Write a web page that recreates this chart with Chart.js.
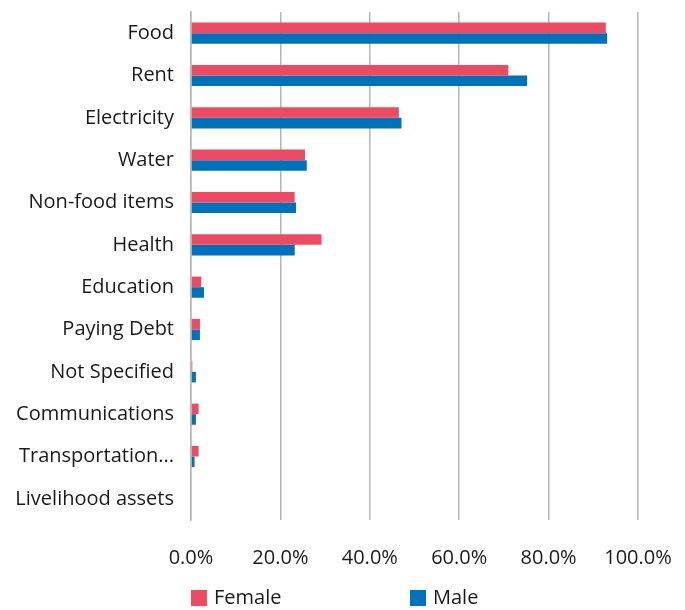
<!DOCTYPE html>
<html>
<head>
<meta charset="utf-8">
<script src="https://cdn.jsdelivr.net/npm/chart.js@4.4.1/dist/chart.umd.min.js"></script>
<style>
  html, body { margin: 0; padding: 0; background: #fff; }
  #wrap { width: 685px; height: 610px; }
</style>
</head>
<body>
<div id="wrap"><canvas id="expenses"></canvas></div>
<script>
// Spending categories, share of households (%)
var categories = ['Food', 'Rent', 'Electricity', 'Water', 'Non-food items', 'Health',
    'Education', 'Paying Debt', 'Not Specified', 'Communications', 'Transportation...',
    'Livelihood assets'];
var female = [92.8, 71.0, 46.5, 25.5, 23.2, 29.2, 2.3, 2.0, 0.3, 1.7, 1.7, 0];
var male   = [93.1, 75.2, 47.1, 25.9, 23.5, 23.2, 2.9, 2.0, 1.1, 1.1, 0.8, 0];
var xTicks = ['0.0%', '20.0%', '40.0%', '60.0%', '80.0%', '100.0%'];

var FONT = "'Open Sans', sans-serif";
var FONT_SIZE = 20;
var GRID = '#b5b5b5';

Chart.defaults.font.family = FONT;
Chart.defaults.color = '#1a1a1a';

// legend row under the axis, items spread wide apart
var wideLegend = {
    id: 'wideLegend',
    afterDraw: function(chart) {
        var c = chart.ctx;
        var slots = [191, 410];
        var y = 598;
        c.save();
        c.font = FONT_SIZE + 'px ' + FONT;
        c.textBaseline = 'middle';
        c.textAlign = 'left';
        chart.data.datasets.forEach(function(ds, i) {
            var x = slots[i];
            c.fillStyle = ds.backgroundColor;
            c.fillRect(x, y - 8, 16, 16);
            c.fillStyle = '#1a1a1a';
            c.fillText(ds.label, x + 23, y);
        });
        c.restore();
    }
};

var ctx = document.getElementById('expenses').getContext('2d');
new Chart(ctx, {
    type: 'bar',
    data: {
        labels: categories,
        datasets: [
            { label: 'Female', data: female, backgroundColor: '#ed4a63' },
            { label: 'Male', data: male, backgroundColor: '#0071bb' }
        ]
    },
    options: {
        indexAxis: 'y',
        responsive: true,
        maintainAspectRatio: false,
        animation: false,
        categoryPercentage: 0.5,
        barPercentage: 1.0,
        layout: { padding: { top: 12, right: 47, left: 0, bottom: 42 } },
        scales: {
            x: {
                min: 0,
                max: 100,
                ticks: {
                    stepSize: 20,
                    padding: 26,
                    font: { size: FONT_SIZE },
                    callback: function(value, i) { return xTicks[i]; }
                },
                grid: { color: GRID, lineWidth: 1.5, drawTicks: false },
                border: { display: false },
                afterFit: function(scale) {
                    scale.height = 48;
                    scale.paddingLeft = 0;
                    scale.paddingRight = 0;
                }
            },
            y: {
                ticks: { padding: 17, font: { size: FONT_SIZE } },
                grid: { display: false, drawTicks: false },
                border: { display: true, color: GRID, width: 1.5 },
                afterFit: function(scale) {
                    scale.width = 191;
                    scale.paddingTop = 0;
                    scale.paddingBottom = 0;
                }
            }
        },
        plugins: {
            tooltip: { enabled: false },
            legend: { display: false }
        }
    },
    plugins: [wideLegend]
});
</script>
</body>
</html>
